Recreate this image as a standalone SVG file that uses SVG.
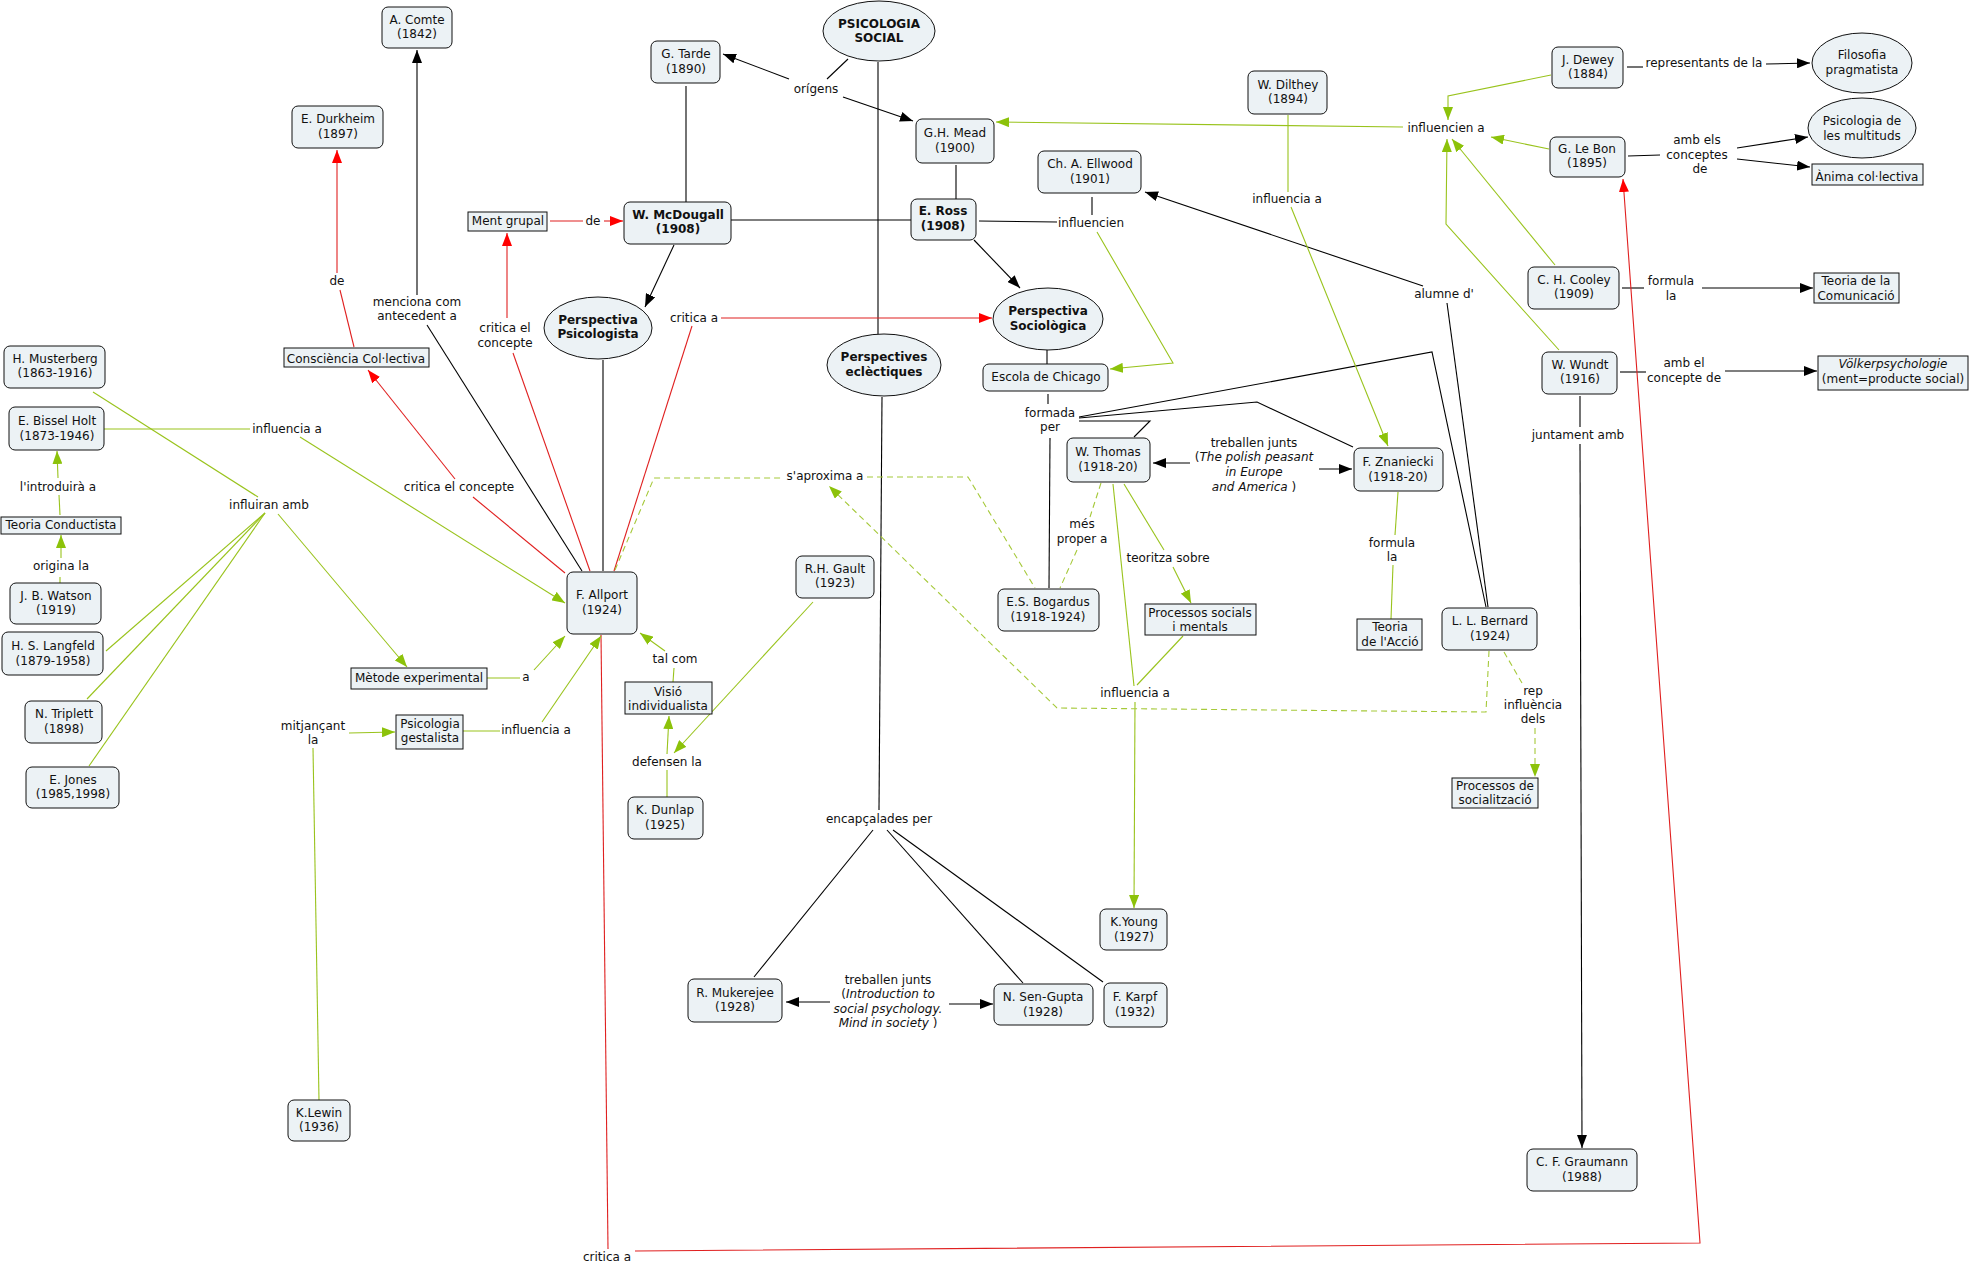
<svg xmlns="http://www.w3.org/2000/svg" width="1971" height="1264" viewBox="0 0 1971 1264">
<style>
text{font-family:"DejaVu Sans",Verdana,sans-serif;font-size:12px;fill:#111;text-anchor:middle}
.b{font-weight:bold}
.i{font-style:italic}
.n{fill:#ecf2f5;stroke:#111;stroke-width:1}
.cb{fill:none;stroke:#000;stroke-width:1.1}
.cr{fill:none;stroke:#e02020;stroke-width:1.1}
.cg{fill:none;stroke:#99c31c;stroke-width:1.1}
.cgd{fill:none;stroke:#a6c93a;stroke-width:1.1;stroke-dasharray:6,4}
</style>
<defs>
<marker id="ab" markerWidth="13" markerHeight="10" refX="13" refY="5" orient="auto" markerUnits="userSpaceOnUse"><path d="M0,0 L13,5 L0,10 z" fill="#000"/></marker>
<marker id="ar" markerWidth="13" markerHeight="10" refX="13" refY="5" orient="auto" markerUnits="userSpaceOnUse"><path d="M0,0 L13,5 L0,10 z" fill="#f00"/></marker>
<marker id="ag" markerWidth="13" markerHeight="10" refX="13" refY="5" orient="auto" markerUnits="userSpaceOnUse"><path d="M0,0 L13,5 L0,10 z" fill="#8cc20a"/></marker>
</defs>
<rect width="1971" height="1264" fill="#fff"/>
<g id="connectors">
<!-- black -->
<path class="cb" d="M848,59 L827,79"/>
<path class="cb" d="M789,79 L723,54" marker-end="url(#ab)"/>
<path class="cb" d="M843,97 L913,121" marker-end="url(#ab)"/>
<path class="cb" d="M686,86 L686,202"/>
<path class="cb" d="M731,220 L911,220"/>
<path class="cb" d="M878,62 L878,334"/>
<path class="cb" d="M956,165 L956,199"/>
<path class="cb" d="M674,245 L645,307" marker-end="url(#ab)"/>
<path class="cb" d="M974,240 L1020,288" marker-end="url(#ab)"/>
<path class="cb" d="M979,221 L1057,222"/>
<path class="cb" d="M1092,197 L1092,215"/>
<path class="cb" d="M1047,350 L1047,364"/>
<path class="cb" d="M1048,394 L1048,404"/>
<path class="cb" d="M1079,417 L1432,352 L1486,607"/>
<path class="cb" d="M1079,418 L1257,402 L1353,447"/>
<path class="cb" d="M1079,421 L1150,421 L1134,437"/>
<path class="cb" d="M1050,438 L1049,588"/>
<path class="cb" d="M1488,607 L1447,303"/>
<path class="cb" d="M1423,286 L1145,192" marker-end="url(#ab)"/>
<path class="cb" d="M1190,463 L1153,463" marker-end="url(#ab)"/>
<path class="cb" d="M1319,469 L1352,469" marker-end="url(#ab)"/>
<path class="cb" d="M603,360 L603,571"/>
<path class="cb" d="M417,295 L417,50" marker-end="url(#ab)"/>
<path class="cb" d="M427,325 L582,571"/>
<path class="cb" d="M1627,67 L1643,67"/>
<path class="cb" d="M1766,64 L1810,63" marker-end="url(#ab)"/>
<path class="cb" d="M1628,156 L1660,155"/>
<path class="cb" d="M1737,148 L1808,137" marker-end="url(#ab)"/>
<path class="cb" d="M1737,159 L1810,167" marker-end="url(#ab)"/>
<path class="cb" d="M1622,288 L1644,288"/>
<path class="cb" d="M1702,288 L1813,288" marker-end="url(#ab)"/>
<path class="cb" d="M1620,372 L1646,372"/>
<path class="cb" d="M1725,371 L1817,371" marker-end="url(#ab)"/>
<path class="cb" d="M1580,396 L1580,427"/>
<path class="cb" d="M1580,444 L1582,1148" marker-end="url(#ab)"/>
<path class="cb" d="M882,397 L879,810"/>
<path class="cb" d="M873,830 L754,977"/>
<path class="cb" d="M887,830 L1023,983"/>
<path class="cb" d="M893,830 L1103,982"/>
<path class="cb" d="M830,1002 L786,1002" marker-end="url(#ab)"/>
<path class="cb" d="M949,1004 L993,1004" marker-end="url(#ab)"/>
<!-- red -->
<path class="cr" d="M337,273 L337,150" marker-end="url(#ar)"/>
<path class="cr" d="M340,290 L354,347"/>
<path class="cr" d="M550,221 L583,221"/>
<path class="cr" d="M604,221 L623,221" marker-end="url(#ar)"/>
<path class="cr" d="M507,318 L507,233" marker-end="url(#ar)"/>
<path class="cr" d="M513,353 L590,571"/>
<path class="cr" d="M721,318 L992,318" marker-end="url(#ar)"/>
<path class="cr" d="M692,326 L614,571"/>
<path class="cr" d="M455,479 L368,370" marker-end="url(#ar)"/>
<path class="cr" d="M473,497 L565,573"/>
<path class="cr" d="M608,1249 L601,635"/>
<path class="cr" d="M635,1251 L1700,1243 L1623,179" marker-end="url(#ar)"/>
<!-- green -->
<path class="cg" d="M1403,127 L996,122" marker-end="url(#ag)"/>
<path class="cg" d="M1551,75 L1448,96 L1448,120" marker-end="url(#ag)"/>
<path class="cg" d="M1549,149 L1491,137" marker-end="url(#ag)"/>
<path class="cg" d="M1555,265 L1452,139" marker-end="url(#ag)"/>
<path class="cg" d="M1559,350 L1446,224 L1447,139" marker-end="url(#ag)"/>
<path class="cg" d="M1288,115 L1288,192"/>
<path class="cg" d="M1291,207 L1388,446" marker-end="url(#ag)"/>
<path class="cg" d="M1097,232 L1173,363 L1110,369" marker-end="url(#ag)"/>
<path class="cg" d="M1398,492 L1395,535"/>
<path class="cg" d="M1393,565 L1391,619"/>
<path class="cg" d="M1124,484 L1164,550"/>
<path class="cg" d="M1173,567 L1191,603" marker-end="url(#ag)"/>
<path class="cg" d="M1113,484 L1134,686"/>
<path class="cg" d="M1183,636 L1137,685"/>
<path class="cg" d="M1135,702 L1134,908" marker-end="url(#ag)"/>
<path class="cg" d="M93,392 L258,497"/>
<path class="cg" d="M104,429 L250,429"/>
<path class="cg" d="M300,437 L565,603" marker-end="url(#ag)"/>
<path class="cg" d="M265,513 L106,651"/>
<path class="cg" d="M265,513 L87,699"/>
<path class="cg" d="M265,513 L89,766"/>
<path class="cg" d="M278,514 L407,667" marker-end="url(#ag)"/>
<path class="cg" d="M60,515 L59,495"/>
<path class="cg" d="M58,478 L57,451" marker-end="url(#ag)"/>
<path class="cg" d="M60,583 L60,577"/>
<path class="cg" d="M61,558 L61,535" marker-end="url(#ag)"/>
<path class="cg" d="M487,678 L520,678"/>
<path class="cg" d="M534,670 L565,636" marker-end="url(#ag)"/>
<path class="cg" d="M319,1100 L313,748"/>
<path class="cg" d="M349,733 L395,732" marker-end="url(#ag)"/>
<path class="cg" d="M463,731 L500,731"/>
<path class="cg" d="M542,722 L601,636" marker-end="url(#ag)"/>
<path class="cg" d="M673,682 L674,668"/>
<path class="cg" d="M665,651 L640,633" marker-end="url(#ag)"/>
<path class="cg" d="M667,797 L667,770"/>
<path class="cg" d="M667,754 L669,716" marker-end="url(#ag)"/>
<path class="cg" d="M813,602 L674,753" marker-end="url(#ag)"/>
<!-- green dashed -->
<path class="cgd" d="M615,570 L654,478 L783,478"/>
<path class="cgd" d="M867,477 L968,477 L1035,588"/>
<path class="cgd" d="M1489,651 L1486,712 L1057,708 L829,486" marker-end="url(#ag)"/>
<path class="cgd" d="M1101,483 L1090,517"/>
<path class="cgd" d="M1077,550 L1060,588"/>
<path class="cgd" d="M1504,652 L1522,683"/>
<path class="cgd" d="M1535,728 L1535,777" marker-end="url(#ag)"/>
</g>
<g id="labels">
<text x="816" y="93">orígens</text>
<text x="417" y="306">menciona com</text>
<text x="417" y="320">antecedent a</text>
<text x="337" y="285">de</text>
<text x="593" y="225">de</text>
<text x="505" y="332">critica el</text>
<text x="505" y="347">concepte</text>
<text x="694" y="322">critica a</text>
<text x="1091" y="227">influencien</text>
<text x="1287" y="203">influencia a</text>
<text x="1444" y="298">alumne d'</text>
<text x="1446" y="132">influencien a</text>
<text x="1704" y="67">representants de la</text>
<text x="1697" y="144">amb els</text>
<text x="1697" y="159">conceptes</text>
<text x="1700" y="173">de</text>
<text x="1671" y="285">formula</text>
<text x="1671" y="300">la</text>
<text x="1684" y="367">amb el</text>
<text x="1684" y="382">concepte de</text>
<text x="1578" y="439">juntament amb</text>
<text x="1050" y="417">formada</text>
<text x="1050" y="431">per</text>
<text x="1254" y="447">treballen junts</text>
<text x="1254" y="461">(<tspan class="i">The polish peasant</tspan></text>
<text x="1254" y="476" class="i">in Europe</text>
<text x="1254" y="491"><tspan class="i">and America</tspan> )</text>
<text x="1082" y="528">més</text>
<text x="1082" y="543">proper a</text>
<text x="1168" y="562">teoritza sobre</text>
<text x="1392" y="547">formula</text>
<text x="1392" y="561">la</text>
<text x="1135" y="697">influencia a</text>
<text x="1533" y="695">rep</text>
<text x="1533" y="709">influència</text>
<text x="1533" y="723">dels</text>
<text x="825" y="480">s'aproxima a</text>
<text x="675" y="663">tal com</text>
<text x="667" y="766">defensen la</text>
<text x="879" y="823">encapçalades per</text>
<text x="888" y="984">treballen junts</text>
<text x="888" y="998">(<tspan class="i">Introduction to</tspan></text>
<text x="888" y="1013" class="i">social psychology.</text>
<text x="888" y="1027"><tspan class="i">Mind in society</tspan> )</text>
<text x="607" y="1261">critica a</text>
<text x="287" y="433">influencia a</text>
<text x="459" y="491">critica el concepte</text>
<text x="269" y="509">influiran amb</text>
<text x="58" y="491">l'introduirà a</text>
<text x="61" y="570">origina la</text>
<text x="526" y="681">a</text>
<text x="313" y="730">mitjançant</text>
<text x="313" y="744">la</text>
<text x="536" y="734">influencia a</text>
</g>
<g id="psicologia-social"><ellipse class="n" cx="879" cy="31" rx="56" ry="30"/><text class="b" x="879" y="28">PSICOLOGIA</text><text class="b" x="879" y="42">SOCIAL</text></g>
<g id="psicologista"><ellipse class="n" cx="598" cy="328" rx="54" ry="31"/><text class="b" x="598" y="324">Perspectiva</text><text class="b" x="598" y="338">Psicologista</text></g>
<g id="sociologica"><ellipse class="n" cx="1048" cy="319" rx="55" ry="31"/><text class="b" x="1048" y="315">Perspectiva</text><text class="b" x="1048" y="330">Sociològica</text></g>
<g id="eclectiques"><ellipse class="n" cx="884" cy="365" rx="57" ry="31"/><text class="b" x="884" y="361">Perspectives</text><text class="b" x="884" y="376">eclèctiques</text></g>
<g id="pragmatista"><ellipse class="n" cx="1862" cy="63" rx="50" ry="30"/><text x="1862" y="59">Filosofia</text><text x="1862" y="74">pragmatista</text></g>
<g id="multituds"><ellipse class="n" cx="1862" cy="128" rx="54" ry="30"/><text x="1862" y="125">Psicologia de</text><text x="1862" y="140">les multituds</text></g>
<g id="comte"><rect class="n" x="382" y="7" width="70" height="41" rx="6"/><text x="417" y="24">A. Comte</text><text x="417" y="38">(1842)</text></g>
<g id="durkheim"><rect class="n" x="292" y="106" width="91" height="42" rx="6"/><text x="338" y="123">E. Durkheim</text><text x="338" y="138">(1897)</text></g>
<g id="tarde"><rect class="n" x="651" y="41" width="69" height="42" rx="6"/><text x="686" y="58">G. Tarde</text><text x="686" y="73">(1890)</text></g>
<g id="mead"><rect class="n" x="916" y="119" width="78" height="44" rx="6"/><text x="955" y="137">G.H. Mead</text><text x="955" y="152">(1900)</text></g>
<g id="mcdougall"><rect class="n" x="624" y="202" width="107" height="42" rx="6"/><text class="b" x="678" y="219">W. McDougall</text><text class="b" x="678" y="233">(1908)</text></g>
<g id="ross"><rect class="n" x="911" y="199" width="65" height="41" rx="6"/><text class="b" x="943" y="215">E. Ross</text><text class="b" x="943" y="230">(1908)</text></g>
<g id="ellwood"><rect class="n" x="1038" y="151" width="103" height="42" rx="6"/><text x="1090" y="168">Ch. A. Ellwood</text><text x="1090" y="183">(1901)</text></g>
<g id="dilthey"><rect class="n" x="1248" y="71" width="79" height="43" rx="6"/><text x="1288" y="89">W. Dilthey</text><text x="1288" y="103">(1894)</text></g>
<g id="dewey"><rect class="n" x="1552" y="47" width="71" height="41" rx="6"/><text x="1588" y="64">J. Dewey</text><text x="1588" y="78">(1884)</text></g>
<g id="lebon"><rect class="n" x="1550" y="137" width="75" height="40" rx="6"/><text x="1587" y="153">G. Le Bon</text><text x="1587" y="167">(1895)</text></g>
<g id="cooley"><rect class="n" x="1528" y="267" width="91" height="42" rx="6"/><text x="1574" y="284">C. H. Cooley</text><text x="1574" y="298">(1909)</text></g>
<g id="wundt"><rect class="n" x="1542" y="352" width="75" height="42" rx="6"/><text x="1580" y="369">W. Wundt</text><text x="1580" y="383">(1916)</text></g>
<g id="escola"><rect class="n" x="983" y="364" width="125" height="27" rx="6"/><text x="1046" y="381">Escola de Chicago</text></g>
<g id="thomas"><rect class="n" x="1067" y="438" width="83" height="44" rx="6"/><text x="1108" y="456">W. Thomas</text><text x="1108" y="471">(1918-20)</text></g>
<g id="znaniecki"><rect class="n" x="1354" y="448" width="89" height="43" rx="6"/><text x="1398" y="466">F. Znaniecki</text><text x="1398" y="481">(1918-20)</text></g>
<g id="bogardus"><rect class="n" x="998" y="589" width="101" height="42" rx="6"/><text x="1048" y="606">E.S. Bogardus</text><text x="1048" y="621">(1918-1924)</text></g>
<g id="bernard"><rect class="n" x="1442" y="608" width="95" height="42" rx="6"/><text x="1490" y="625">L. L. Bernard</text><text x="1490" y="640">(1924)</text></g>
<g id="musterberg"><rect class="n" x="4" y="346" width="101" height="42" rx="6"/><text x="55" y="363">H. Musterberg</text><text x="55" y="377">(1863-1916)</text></g>
<g id="holt"><rect class="n" x="9" y="407" width="95" height="43" rx="6"/><text x="57" y="425">E. Bissel Holt</text><text x="57" y="440">(1873-1946)</text></g>
<g id="watson"><rect class="n" x="10" y="583" width="91" height="41" rx="6"/><text x="56" y="600">J. B. Watson</text><text x="56" y="614">(1919)</text></g>
<g id="langfeld"><rect class="n" x="2" y="632" width="101" height="43" rx="6"/><text x="53" y="650">H. S. Langfeld</text><text x="53" y="665">(1879-1958)</text></g>
<g id="triplett"><rect class="n" x="25" y="701" width="77" height="42" rx="6"/><text x="64" y="718">N. Triplett</text><text x="64" y="733">(1898)</text></g>
<g id="jones"><rect class="n" x="26" y="767" width="93" height="41" rx="6"/><text x="73" y="784">E. Jones</text><text x="73" y="798">(1985,1998)</text></g>
<g id="allport"><rect class="n" x="567" y="572" width="70" height="62" rx="6"/><text x="602" y="599">F. Allport</text><text x="602" y="614">(1924)</text></g>
<g id="gault"><rect class="n" x="796" y="556" width="78" height="42" rx="6"/><text x="835" y="573">R.H. Gault</text><text x="835" y="587">(1923)</text></g>
<g id="dunlap"><rect class="n" x="628" y="797" width="75" height="42" rx="6"/><text x="665" y="814">K. Dunlap</text><text x="665" y="829">(1925)</text></g>
<g id="lewin"><rect class="n" x="288" y="1100" width="62" height="41" rx="6"/><text x="319" y="1117">K.Lewin</text><text x="319" y="1131">(1936)</text></g>
<g id="mukerejee"><rect class="n" x="688" y="979" width="94" height="43" rx="6"/><text x="735" y="997">R. Mukerejee</text><text x="735" y="1011">(1928)</text></g>
<g id="sengupta"><rect class="n" x="994" y="984" width="99" height="41" rx="6"/><text x="1043" y="1001">N. Sen-Gupta</text><text x="1043" y="1016">(1928)</text></g>
<g id="karpf"><rect class="n" x="1104" y="983" width="63" height="44" rx="6"/><text x="1135" y="1001">F. Karpf</text><text x="1135" y="1016">(1932)</text></g>
<g id="young"><rect class="n" x="1100" y="909" width="67" height="41" rx="6"/><text x="1134" y="926">K.Young</text><text x="1134" y="941">(1927)</text></g>
<g id="graumann"><rect class="n" x="1527" y="1149" width="110" height="42" rx="6"/><text x="1582" y="1166">C. F. Graumann</text><text x="1582" y="1181">(1988)</text></g>
<g id="consciencia"><rect class="n" x="284" y="348" width="145" height="19"/><text x="356" y="363">Consciència Col·lectiva</text></g>
<g id="ment-grupal"><rect class="n" x="468" y="212" width="79" height="19"/><text x="508" y="225">Ment grupal</text></g>
<g id="conductista"><rect class="n" x="1" y="517" width="120" height="17"/><text x="61" y="529">Teoria Conductista</text></g>
<g id="metode"><rect class="n" x="351" y="668" width="136" height="21"/><text x="419" y="682">Mètode experimental</text></g>
<g id="gestalista"><rect class="n" x="396" y="715" width="67" height="34"/><text x="430" y="728">Psicologia</text><text x="430" y="742">gestalista</text></g>
<g id="visio"><rect class="n" x="625" y="682" width="87" height="32"/><text x="668" y="696">Visió</text><text x="668" y="710">individualista</text></g>
<g id="processos-sm"><rect class="n" x="1145" y="604" width="111" height="31"/><text x="1200" y="617">Processos socials</text><text x="1200" y="631">i mentals</text></g>
<g id="teoria-accio"><rect class="n" x="1357" y="619" width="65" height="31"/><text x="1390" y="631">Teoria</text><text x="1390" y="646">de l'Acció</text></g>
<g id="processos-soc"><rect class="n" x="1452" y="778" width="86" height="30"/><text x="1495" y="790">Processos de</text><text x="1495" y="804">socialització</text></g>
<g id="anima"><rect class="n" x="1812" y="164" width="111" height="21"/><text x="1867" y="181">Ànima col·lectiva</text></g>
<g id="comunicacio"><rect class="n" x="1814" y="273" width="85" height="30"/><text x="1856" y="285">Teoria de la</text><text x="1856" y="300">Comunicació</text></g>
<g id="volker"><rect class="n" x="1818" y="356" width="150" height="34"/><text class="i" x="1893" y="368">Völkerpsychologie</text><text x="1893" y="383">(ment=producte social)</text></g>
</svg>
